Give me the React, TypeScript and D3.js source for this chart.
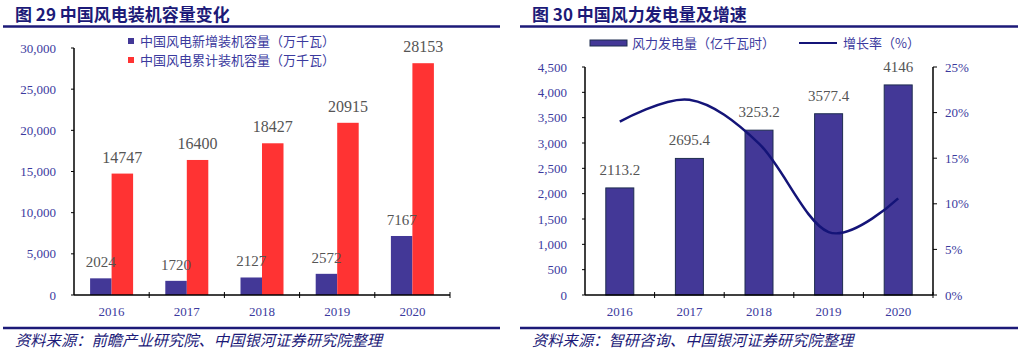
import React from 'react';
import * as d3 from 'd3';

// 图29 data
const years = ['2016', '2017', '2018', '2019', '2020'];
const newCapacity = [2024, 1720, 2127, 2572, 7167];
const totalCapacity = [14747, 16400, 18427, 20915, 28153];
const leftTicks = [0, 5000, 10000, 15000, 20000, 25000, 30000];

// 图30 data
const generation = [2113.2, 2695.4, 3253.2, 3577.4, 4146];
const generationLabels = ['2113.2', '2695.4', '3253.2', '3577.4', '4146'];
const growthRate = [19.0, 21.4, 16.6, 6.9, 10.6];
const genTicks = [0, 500, 1000, 1500, 2000, 2500, 3000, 3500, 4000, 4500];
const rateTicks = [0, 5, 10, 15, 20, 25];

const NAVY = '#1c1a78';
const TICK_BLUE = '#3b3a9e';
const BAR_BLUE = '#433897';
const BAR_RED = '#ff3333';
const LABEL_GRAY = '#555555';
const CJK = '"Noto Sans CJK SC", "Noto Sans", sans-serif';
const NUM = '"Liberation Serif", "DejaVu Serif", serif';

const fmt = d3.format(',');

function Header({ x0, x1, title }: { x0: number; x1: number; title: string }) {
  return (
    <g>
      <text x={x0 + 12} y={21} fontFamily={CJK} fontWeight="bold" fontSize={17} fill={NAVY}>{title}</text>
      <line x1={x0} x2={x1} y1={26.5} y2={26.5} stroke={NAVY} strokeWidth={2.5} />
    </g>
  );
}

function Footer({ x0, x1, text }: { x0: number; x1: number; text: string }) {
  return (
    <g>
      <line x1={x0} x2={x1} y1={328} y2={328} stroke={NAVY} strokeWidth={2.5} />
      <text x={x0 + 12} y={346} fontFamily={CJK} fontStyle="italic" fontSize={15.3} fill={NAVY}>{text}</text>
    </g>
  );
}

function LeftChart() {
  const x = d3.scaleBand().domain(years).range([74, 450]);
  const y = d3.scaleLinear().domain([0, 30000]).range([295, 48]);
  const inner = d3.scaleBand().domain(['new', 'total']).range([0, 43]);
  const barOff = (x.bandwidth() - 43) / 2;

  return (
    <g>
      <Header x0={3} x1={500} title="图 29 中国风电装机容量变化" />
      {/* y axis */}
      {leftTicks.map(t => (
        <g key={t}>
          <text x={56} y={y(t)} dy="0.35em" textAnchor="end" fontFamily={NUM} fontSize={13} fill={TICK_BLUE}>{fmt(t)}</text>
          <line x1={71} x2={74} y1={y(t)} y2={y(t)} stroke="#000" />
        </g>
      ))}
      <line x1={74} x2={74} y1={48} y2={295} stroke="#000" strokeWidth={1.5} />
      {/* bars */}
      {years.map((yr, i) => {
        const bx = (x(yr) as number) + barOff;
        return (
          <g key={yr}>
            <rect x={bx + (inner('new') as number)} y={y(newCapacity[i])} width={inner.bandwidth()} height={295 - y(newCapacity[i])} fill={BAR_BLUE} />
            <rect x={bx + (inner('total') as number)} y={y(totalCapacity[i])} width={inner.bandwidth()} height={295 - y(totalCapacity[i])} fill={BAR_RED} />
            <text x={bx + (inner('new') as number) + inner.bandwidth() / 2} y={y(newCapacity[i]) - 11} textAnchor="middle" fontFamily={NUM} fontSize={15} fill={LABEL_GRAY}>{newCapacity[i]}</text>
            <text x={bx + (inner('total') as number) + inner.bandwidth() / 2} y={y(totalCapacity[i]) - 11} textAnchor="middle" fontFamily={NUM} fontSize={16} fill={LABEL_GRAY}>{totalCapacity[i]}</text>
            <text x={(x(yr) as number) + x.bandwidth() / 2} y={311} dy="0.35em" textAnchor="middle" fontFamily={NUM} fontSize={13} fill={TICK_BLUE}>{yr}</text>
          </g>
        );
      })}
      {/* x axis */}
      <line x1={74} x2={450} y1={295} y2={295} stroke="#000" strokeWidth={1.5} />
      {years.map(yr => (
        <line key={yr} x1={(x(yr) as number) + x.bandwidth()} x2={(x(yr) as number) + x.bandwidth()} y1={292} y2={298} stroke="#000" />
      ))}
      {/* legend */}
      <rect x={128} y={38} width={6} height={6} fill={BAR_BLUE} />
      <text x={140} y={41} dy="0.35em" fontFamily={CJK} fontSize={13} fill={TICK_BLUE}>中国风电新增装机容量（万千瓦）</text>
      <rect x={128} y={57} width={6} height={6} fill={BAR_RED} />
      <text x={140} y={60} dy="0.35em" fontFamily={CJK} fontSize={13} fill={TICK_BLUE}>中国风电累计装机容量（万千瓦）</text>
      <Footer x0={3} x1={500} text="资料来源：前瞻产业研究院、中国银河证券研究院整理" />
    </g>
  );
}

function RightChart() {
  const x = d3.scaleBand().domain(years).range([585, 933]);
  const y = d3.scaleLinear().domain([0, 4500]).range([295, 67]);
  const yr2 = d3.scaleLinear().domain([0, 25]).range([295, 67]);
  const barW = 28;
  const line = d3.line<number>()
    .x((_, i) => (x(years[i]) as number) + x.bandwidth() / 2)
    .y(d => yr2(d))
    .curve(d3.curveCardinal.tension(0));

  return (
    <g>
      <Header x0={520} x1={1018} title="图 30 中国风力发电量及增速" />
      {/* left axis */}
      {genTicks.map(t => (
        <g key={t}>
          <text x={567} y={y(t)} dy="0.35em" textAnchor="end" fontFamily={NUM} fontSize={13} fill={TICK_BLUE}>{fmt(t)}</text>
          <line x1={582} x2={585} y1={y(t)} y2={y(t)} stroke="#000" />
        </g>
      ))}
      <line x1={585} x2={585} y1={67} y2={295} stroke="#000" strokeWidth={1.5} />
      {/* right axis */}
      {rateTicks.map(t => (
        <g key={t}>
          <text x={945} y={yr2(t)} dy="0.35em" fontFamily={NUM} fontSize={13} fill={TICK_BLUE}>{t}%</text>
          <line x1={933} x2={937} y1={yr2(t)} y2={yr2(t)} stroke="#000" />
        </g>
      ))}
      <line x1={933} x2={933} y1={67} y2={295} stroke="#000" strokeWidth={1.5} />
      {/* bars */}
      {years.map((yr, i) => {
        const cx = (x(yr) as number) + x.bandwidth() / 2;
        return (
          <g key={yr}>
            <rect x={cx - barW / 2} y={y(generation[i])} width={barW} height={295 - y(generation[i])} fill={BAR_BLUE} stroke="#1e2d50" strokeWidth={1} />
            <text x={cx} y={y(generation[i]) - 13} textAnchor="middle" fontFamily={NUM} fontSize={15} fill={LABEL_GRAY}>{generationLabels[i]}</text>
            <text x={cx} y={311} dy="0.35em" textAnchor="middle" fontFamily={NUM} fontSize={13} fill={TICK_BLUE}>{yr}</text>
          </g>
        );
      })}
      {/* x axis */}
      <line x1={585} x2={933} y1={295} y2={295} stroke="#000" strokeWidth={1.5} />
      {years.map(yr => (
        <line key={yr} x1={(x(yr) as number) + x.bandwidth()} x2={(x(yr) as number) + x.bandwidth()} y1={292} y2={298} stroke="#000" />
      ))}
      {/* growth line */}
      <path d={line(growthRate) || ''} fill="none" stroke="#141478" strokeWidth={2.5} />
      {/* legend */}
      <rect x={590} y={40} width={37} height={6} fill={BAR_BLUE} stroke="#1e2d50" />
      <text x={632} y={43} dy="0.35em" fontFamily={CJK} fontSize={13} fill={TICK_BLUE}>风力发电量（亿千瓦时）</text>
      <line x1={799} x2={837} y1={43} y2={43} stroke="#141478" strokeWidth={2} />
      <text x={843} y={43} dy="0.35em" fontFamily={CJK} fontSize={13} fill={TICK_BLUE}>增长率（%）</text>
      <Footer x0={520} x1={1018} text="资料来源：智研咨询、中国银河证券研究院整理" />
    </g>
  );
}

export default function App() {
  return (
    <svg width={1024} height={353} style={{ position: 'absolute', left: 0, top: 0, background: '#fff' }}>
      <rect width={1024} height={353} fill="#fff" />
      <LeftChart />
      <RightChart />
    </svg>
  );
}
